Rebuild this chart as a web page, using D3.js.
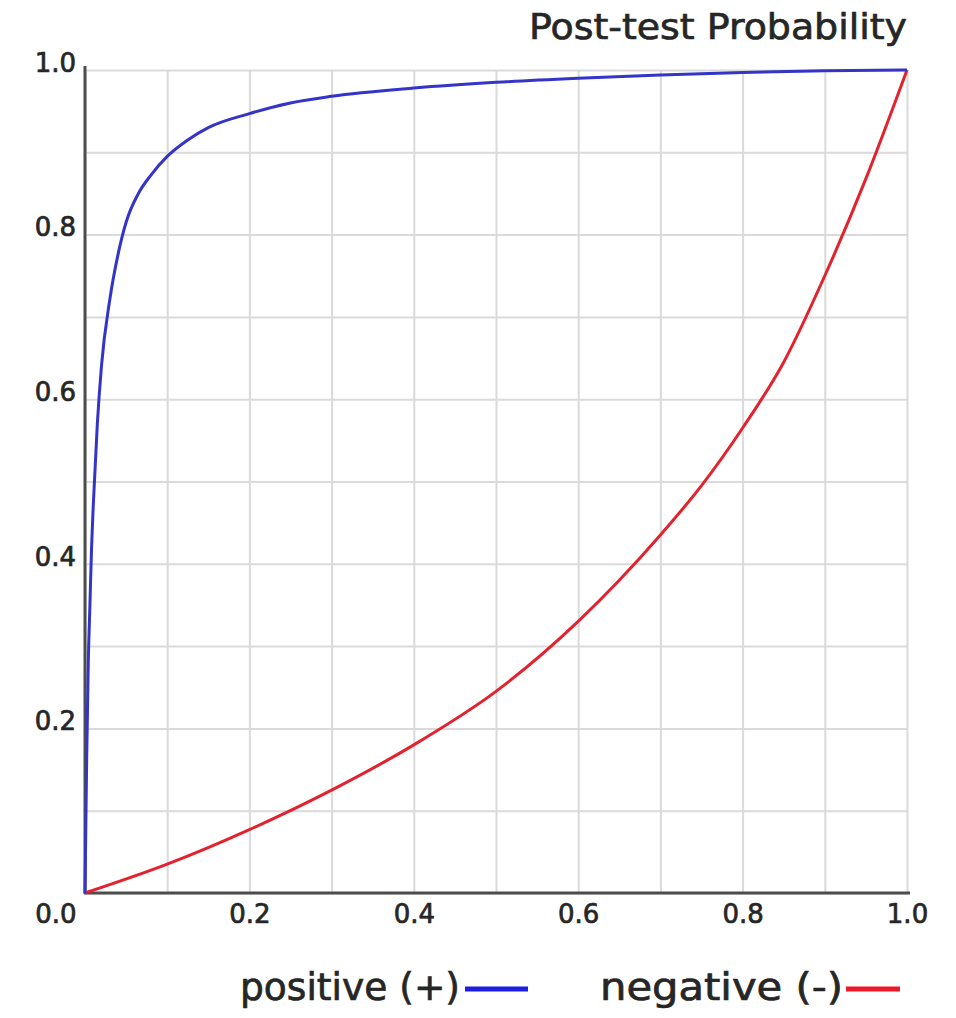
<!DOCTYPE html>
<html>
<head>
<meta charset="utf-8">
<script src="https://cdn.jsdelivr.net/npm/d3@7"></script>
<style>
  body { margin: 0; background: #fff; }
  text { font-family: "DejaVu Sans", sans-serif; fill: #262626; stroke: #262626; stroke-width: 0.7px; }
</style>
</head>
<body>
<div id="viz"></div>
<script>

// pre-test probability (x) and post-test probability (y)
const posPretest = [0, 0.002, 0.004, 0.006, 0.008, 0.01, 0.015, 0.02, 0.03, 0.04, 0.05, 0.065, 0.08, 0.1, 0.125, 0.15, 0.2, 0.25, 0.3, 0.4, 0.5, 0.6, 0.7, 0.8, 0.9, 1.0]
const positive   = [0, 0.16, 0.28, 0.35, 0.42, 0.47, 0.57, 0.64, 0.72, 0.775, 0.815, 0.85, 0.872, 0.895, 0.915, 0.93, 0.947, 0.96, 0.968, 0.978, 0.985, 0.99, 0.994, 0.997, 0.999, 1.0]

const negPretest = [0, 0.1, 0.2, 0.3, 0.4, 0.5, 0.6, 0.65, 0.7, 0.75, 0.8, 0.85, 0.9, 0.95, 1.0]
const negative   = [0, 0.035, 0.077, 0.125, 0.18, 0.245, 0.33, 0.38, 0.435, 0.495, 0.565, 0.645, 0.75, 0.868, 1.0]

const gridTicks  = [0, 0.1, 0.2, 0.3, 0.4, 0.5, 0.6, 0.7, 0.8, 0.9, 1.0]
const labelTicks = [0, 0.2, 0.4, 0.6, 0.8, 1.0]

const title = 'Post-test Probability'
const legendNames = ['positive (+)', 'negative (-)']

let width = 956,
    height = 1018;

let xScale = d3.scaleLinear()
                .domain([0, 1])
                .range([85, 907])

let yScale = d3.scaleLinear()
                .domain([0, 1])
                .range([893, 70])

let svg = d3.select('#viz')
            .append('svg')
            .attr('width', width)
            .attr('height', height)
            .style('background', '#fff')

// grid
svg.append('g')
   .attr('transform', 'translate(0,70)')
   .call(d3.axisBottom(xScale).tickValues(gridTicks).tickSize(823).tickFormat(''))
   .call(g => g.select('.domain').remove())
   .selectAll('line').attr('stroke', '#dadada').attr('stroke-width', 2)

svg.append('g')
   .attr('transform', 'translate(85,0)')
   .call(d3.axisRight(yScale).tickValues(gridTicks).tickSize(822).tickFormat(''))
   .call(g => g.select('.domain').remove())
   .selectAll('line').attr('stroke', '#dadada').attr('stroke-width', 2)

// axis lines
svg.append('line')
   .attr('x1', 85).attr('x2', 85).attr('y1', 66).attr('y2', 894)
   .attr('stroke', '#4d4d4d').attr('stroke-width', 3)
svg.append('line')
   .attr('x1', 84).attr('x2', 910).attr('y1', 893).attr('y2', 893)
   .attr('stroke', '#4d4d4d').attr('stroke-width', 3)

// tick labels
let yAxis = svg.append('g')
   .attr('transform', 'translate(85,0)')
   .call(d3.axisLeft(yScale).tickValues(labelTicks.slice(1)).tickSize(0).tickPadding(9).tickFormat(d3.format('.1f')))
yAxis.select('.domain').remove()
yAxis.selectAll('text')
     .attr('dy', '0.05em')
     .style('font-size', '26px')
     .style('font-family', '"DejaVu Sans", sans-serif')
     .attr('fill', '#262626')

let xAxis = svg.append('g')
   .attr('transform', 'translate(0,893)')
   .call(d3.axisBottom(xScale).tickValues(labelTicks).tickSize(0).tickPadding(12).tickFormat(d3.format('.1f')))
xAxis.select('.domain').remove()
xAxis.selectAll('text')
     .style('font-size', '26px')
     .style('font-family', '"DejaVu Sans", sans-serif')
     .attr('fill', '#262626')
xAxis.selectAll('.tick')
     .filter(d => d === 0)
     .select('text')
     .attr('text-anchor', 'end')
     .attr('x', -9)

// curves
let line = d3.line()
             .x(d => xScale(d[0]))
             .y(d => yScale(d[1]))
             .curve(d3.curveMonotoneX)

svg.append('path')
   .datum(negPretest.map((p, i) => [p, negative[i]]))
   .attr('d', line)
   .attr('fill', 'none')
   .attr('stroke', '#e2222e')
   .attr('stroke-width', 3)

svg.append('path')
   .datum(posPretest.map((p, i) => [p, positive[i]]))
   .attr('d', line)
   .attr('fill', 'none')
   .attr('stroke', '#3434c8')
   .attr('stroke-width', 3)

// title
svg.append('text')
   .attr('x', 907)
   .attr('y', 39)
   .attr('text-anchor', 'end')
   .attr('textLength', 378)
   .attr('lengthAdjust', 'spacingAndGlyphs')
   .style('font-size', '36px')
   .text(title)

// legend
svg.append('text')
   .attr('x', 240)
   .attr('y', 1000)
   .attr('textLength', 220)
   .attr('lengthAdjust', 'spacingAndGlyphs')
   .style('font-size', '37px')
   .text(legendNames[0])
svg.append('line')
   .attr('x1', 465).attr('x2', 528).attr('y1', 989).attr('y2', 989)
   .attr('stroke', '#1e1ee0').attr('stroke-width', 5)

svg.append('text')
   .attr('x', 600)
   .attr('y', 1000)
   .attr('textLength', 243)
   .attr('lengthAdjust', 'spacingAndGlyphs')
   .style('font-size', '37px')
   .text(legendNames[1])
svg.append('line')
   .attr('x1', 846).attr('x2', 900).attr('y1', 989).attr('y2', 989)
   .attr('stroke', '#ea1a2a').attr('stroke-width', 5)

</script>
</body>
</html>
